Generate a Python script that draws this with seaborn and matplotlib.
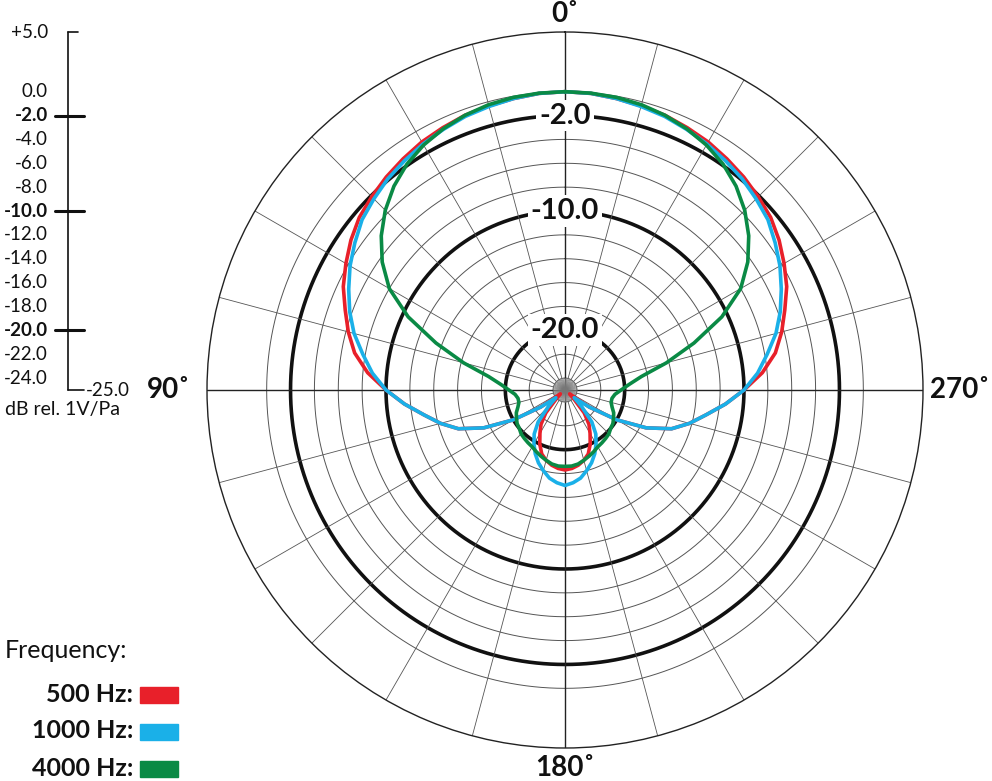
import numpy as np
import matplotlib
matplotlib.use("Agg")
import matplotlib.pyplot as plt
import matplotlib.transforms as mtrans
import matplotlib.patches as mpatches
import seaborn as sns

sns.set_theme(style="white")
plt.rcParams['font.family'] = ['Lato', 'DejaVu Sans']

angles_deg = list(range(0, 181, 5))
db_500 = [0.0, -0.05, -0.2, -0.35, -0.5, -0.75, -1.0, -1.35, -1.7, -2.1, -2.5, -3.1, -3.8, -4.5, -5.4, -6.2,
          -7.1, -8.4, -10.0, -11.5, -13.0, -14.2, -15.5, -17.5, -20.0, -22.5, -24.5, -24.0, -22.5, -21.5,
          -20.8, -20.0, -19.3, -18.9, -18.6, -18.4, -18.3]
db_1000 = [0.0, -0.05, -0.2, -0.4, -0.6, -0.9, -1.2, -1.55, -1.9, -2.35, -2.8, -3.5, -4.2, -5.0, -5.8, -6.7,
           -7.8, -8.8, -10.0, -11.5, -13.0, -14.2, -15.5, -17.5, -20.0, -22.5, -24.0, -23.0, -21.5, -20.5,
           -19.8, -19.1, -18.5, -18.0, -17.5, -17.2, -17.0]
db_4000 = [0.0, -0.03, -0.1, -0.25, -0.5, -0.85, -1.3, -1.9, -2.7, -3.7, -4.9, -6.3, -8.0, -10.5, -13.5, -16.2,
           -18.5, -19.6, -20.3, -20.8, -21.0, -21.0, -20.8, -20.5, -20.3, -20.1, -20.0, -19.8, -19.7, -19.6,
           -19.5, -19.3, -19.1, -18.9, -18.7, -18.6, -18.6]
series = [("500 Hz:", db_500, "#e8202a"), ("1000 Hz:", db_1000, "#1ab0e8"), ("4000 Hz:", db_4000, "#0a8a45")]
scale_labels = ["+5.0", "0.0", "-2.0", "-4.0", "-6.0", "-8.0", "-10.0", "-12.0", "-14.0", "-16.0", "-18.0",
                "-20.0", "-22.0", "-24.0"]
ring_labels = [-2.0, -10.0, -20.0]

W, H = 992, 781
fig = plt.figure(figsize=(W / 100, H / 100), dpi=100)
cx, cy, R = 565, 390, 358
ax = fig.add_axes([(cx - R) / W, (H - cy - R) / H, 2 * R / W, 2 * R / H], projection="polar")
ax.set_theta_zero_location("N")
ax.set_theta_direction(1)
ax.set_ylim(-25, 5)
ax.set_xticks([]); ax.set_yticks([])
ax.grid(False)
ax.spines['polar'].set_color('#222222'); ax.spines['polar'].set_linewidth(1.0)

t = np.linspace(0, 2 * np.pi, 721)
for v in range(-24, 1, 2):
    bold = v in ring_labels
    ax.plot(t, np.full_like(t, v), color='#111111' if bold else '#555555', lw=2.6 if bold else 0.7, zorder=1)
for a in range(0, 360, 15):
    th = np.deg2rad(a)
    main = a % 90 == 0
    ax.plot([th, th], [-25 if main else -24, 5], color='#222222' if main else '#555555',
            lw=1.0 if main else 0.6, zorder=1)
for a in range(0, 360, 5):
    th = np.deg2rad(a)
    ax.plot([th, th], [-25, -24], color='#777777', lw=0.5, zorder=1)

for name, vals, col in series:
    th = np.deg2rad(np.array(angles_deg + [360 - a for a in angles_deg[::-1][1:]]))
    r = np.array(vals + vals[::-1][1:])
    ax.plot(th, r, color=col, lw=2.6, zorder=3)

for v in ring_labels:
    ax.text(0, v, f"{v:.1f}", ha='center', va='center', fontsize=21, fontweight='bold', color='#111111',
            bbox=dict(facecolor='white', edgecolor='none', pad=2), zorder=5)

for txt, x, y, ha in [("0˚", cx, 14, 'center'), ("180˚", cx, 768, 'center'),
                      ("90˚", 190, 390, 'right'), ("270˚", 930, 390, 'left')]:
    fig.text(x / W, 1 - y / H, txt, ha=ha, va='center', fontsize=20, fontweight='bold', color='#111111')

# dB scale bar
sax = fig.add_axes([68 / W, (H - 390) / H, 0.0001, R / H])
sax.set_ylim(-25, 5); sax.axis('off')
tr = sax.get_yaxis_transform()
sax.plot([0, 0], [-25, 5], color='#111111', lw=1.2, transform=tr, clip_on=False)
off = mtrans.ScaledTranslation(-0.2, 0, fig.dpi_scale_trans)
for lab in scale_labels:
    v = float(lab)
    bold = v in ring_labels
    sax.text(0, v, lab, transform=tr + off, ha='right', va='center', fontsize=13.5,
             fontweight='bold' if bold else 'normal', color='#111111', clip_on=False)
trf = mtrans.blended_transform_factory(fig.transFigure, sax.transData)
for v in ring_labels:
    sax.plot([55 / W, 84 / W], [v, v], color='#111111', lw=2.2, transform=trf, clip_on=False)
sax.plot([68 / W, 78 / W], [5, 5], color='#111111', lw=1.2, transform=trf, clip_on=False)
sax.plot([68 / W, 84 / W], [-25, -25], color='#111111', lw=1.2, transform=trf, clip_on=False)
sax.text(86 / W, -25, "-25.0", transform=trf, ha='left', va='center', fontsize=13.5, color='#111111')

fig.text(5 / W, 1 - 410 / H, "dB rel. 1V/Pa", ha='left', va='center', fontsize=14, color='#111111')
fig.text(5 / W, 1 - 650 / H, "Frequency:", ha='left', va='center', fontsize=18, color='#111111')
for i, (name, vals, col) in enumerate(series):
    y = 694 + i * 37
    fig.text(133 / W, 1 - y / H, name, ha='right', va='center', fontsize=18, fontweight='bold', color='#111111')
    fig.patches.append(mpatches.Rectangle((140 / W, 1 - (y + 9) / H), 38 / W, 16 / H,
                                          transform=fig.transFigure, color=col))

fig.savefig("out.png", dpi=100, facecolor='white')
